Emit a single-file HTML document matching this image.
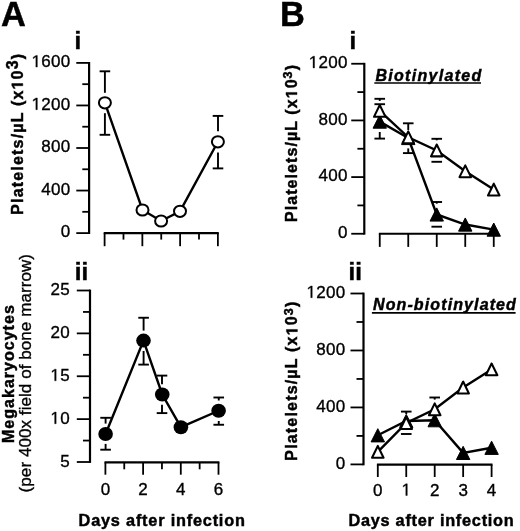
<!DOCTYPE html>
<html><head><meta charset="utf-8"><style>
html,body{margin:0;padding:0;background:#fff;}
svg{display:block;will-change:transform;}
text{font-family:"Liberation Sans", sans-serif;fill:#000;stroke:#000;stroke-width:0.35px;}
text[font-weight="bold"]{stroke-width:0.45px;}
.oner{fill:#000;stroke:#000;stroke-width:0.35px;vector-effect:non-scaling-stroke;}
.oneb{fill:#000;stroke:#000;stroke-width:0.45px;vector-effect:non-scaling-stroke;}
</style></head><body>
<svg width="520" height="531" viewBox="0 0 520 531" stroke="#000" stroke-linecap="butt">
<rect x="0" y="0" width="520" height="531" fill="#fff" stroke="none"/>
<line x1="89.10" y1="62.00" x2="89.10" y2="234.00" stroke-width="2.2"/>
<line x1="76.30" y1="233.10" x2="89.10" y2="233.10" stroke-width="1.8"/>
<line x1="82.30" y1="211.82" x2="89.10" y2="211.82" stroke-width="1.8"/>
<line x1="76.30" y1="190.55" x2="89.10" y2="190.55" stroke-width="1.8"/>
<line x1="82.30" y1="169.28" x2="89.10" y2="169.28" stroke-width="1.8"/>
<line x1="76.30" y1="148.00" x2="89.10" y2="148.00" stroke-width="1.8"/>
<line x1="82.30" y1="126.72" x2="89.10" y2="126.72" stroke-width="1.8"/>
<line x1="76.30" y1="105.45" x2="89.10" y2="105.45" stroke-width="1.8"/>
<line x1="82.30" y1="84.18" x2="89.10" y2="84.18" stroke-width="1.8"/>
<line x1="76.30" y1="62.90" x2="89.10" y2="62.90" stroke-width="1.8"/>
<text  x="70.60" y="237.30" font-size="17" text-anchor="end" font-weight="normal" font-style="normal" letter-spacing="0.3" >0</text>
<text  x="70.60" y="194.75" font-size="17" text-anchor="end" font-weight="normal" font-style="normal" letter-spacing="0.3" >400</text>
<text  x="70.60" y="152.20" font-size="17" text-anchor="end" font-weight="normal" font-style="normal" letter-spacing="0.3" >800</text>
<text id="o0" x="70.60" y="109.65" font-size="17" text-anchor="end" font-weight="normal" font-style="normal" letter-spacing="0.3" > 200</text>
<text id="o1" x="70.60" y="67.10" font-size="17" text-anchor="end" font-weight="normal" font-style="normal" letter-spacing="0.3" > 600</text>
<line x1="103.70" y1="233.10" x2="218.78" y2="233.10" stroke-width="2.2"/>
<line x1="104.60" y1="233.10" x2="104.60" y2="246.20" stroke-width="1.8"/>
<line x1="123.48" y1="233.10" x2="123.48" y2="239.60" stroke-width="1.8"/>
<line x1="142.36" y1="233.10" x2="142.36" y2="246.20" stroke-width="1.8"/>
<line x1="161.24" y1="233.10" x2="161.24" y2="239.60" stroke-width="1.8"/>
<line x1="180.12" y1="233.10" x2="180.12" y2="246.20" stroke-width="1.8"/>
<line x1="199.00" y1="233.10" x2="199.00" y2="239.60" stroke-width="1.8"/>
<line x1="217.88" y1="233.10" x2="217.88" y2="246.20" stroke-width="1.8"/>
<line x1="104.90" y1="92.80" x2="104.90" y2="71.30" stroke-width="1.9"/>
<line x1="99.60" y1="71.30" x2="110.20" y2="71.30" stroke-width="1.9"/>
<line x1="104.90" y1="113.20" x2="104.90" y2="134.80" stroke-width="1.9"/>
<line x1="99.60" y1="134.80" x2="110.20" y2="134.80" stroke-width="1.9"/>
<line x1="218.00" y1="131.30" x2="218.00" y2="115.90" stroke-width="1.9"/>
<line x1="212.70" y1="115.90" x2="223.30" y2="115.90" stroke-width="1.9"/>
<line x1="218.00" y1="152.40" x2="218.00" y2="168.40" stroke-width="1.9"/>
<line x1="212.70" y1="168.40" x2="223.30" y2="168.40" stroke-width="1.9"/>
<polyline fill="none" stroke-width="2.4" points="104.90,102.80 142.50,210.00 161.10,221.00 180.00,211.30 217.90,141.80"/>
<ellipse cx="104.90" cy="102.80" rx="6.0" ry="5.6" fill="#fff" stroke-width="2.0"/>
<ellipse cx="142.50" cy="210.00" rx="6.0" ry="5.6" fill="#fff" stroke-width="2.0"/>
<ellipse cx="161.10" cy="221.00" rx="6.0" ry="5.6" fill="#fff" stroke-width="2.0"/>
<ellipse cx="180.00" cy="211.30" rx="6.0" ry="5.6" fill="#fff" stroke-width="2.0"/>
<ellipse cx="217.90" cy="141.80" rx="6.0" ry="5.6" fill="#fff" stroke-width="2.0"/>
<line x1="90.00" y1="289.60" x2="90.00" y2="462.90" stroke-width="2.2"/>
<line x1="76.80" y1="462.00" x2="90.00" y2="462.00" stroke-width="1.8"/>
<line x1="83.00" y1="440.56" x2="90.00" y2="440.56" stroke-width="1.8"/>
<line x1="76.80" y1="419.12" x2="90.00" y2="419.12" stroke-width="1.8"/>
<line x1="83.00" y1="397.69" x2="90.00" y2="397.69" stroke-width="1.8"/>
<line x1="76.80" y1="376.25" x2="90.00" y2="376.25" stroke-width="1.8"/>
<line x1="83.00" y1="354.81" x2="90.00" y2="354.81" stroke-width="1.8"/>
<line x1="76.80" y1="333.38" x2="90.00" y2="333.38" stroke-width="1.8"/>
<line x1="83.00" y1="311.94" x2="90.00" y2="311.94" stroke-width="1.8"/>
<line x1="76.80" y1="290.50" x2="90.00" y2="290.50" stroke-width="1.8"/>
<text  x="69.90" y="466.60" font-size="17" text-anchor="end" font-weight="normal" font-style="normal" letter-spacing="0.3" >5</text>
<text id="o2" x="69.90" y="423.72" font-size="17" text-anchor="end" font-weight="normal" font-style="normal" letter-spacing="0.3" > 0</text>
<text id="o3" x="69.90" y="380.85" font-size="17" text-anchor="end" font-weight="normal" font-style="normal" letter-spacing="0.3" > 5</text>
<text  x="69.90" y="337.97" font-size="17" text-anchor="end" font-weight="normal" font-style="normal" letter-spacing="0.3" >20</text>
<text  x="69.90" y="295.10" font-size="17" text-anchor="end" font-weight="normal" font-style="normal" letter-spacing="0.3" >25</text>
<line x1="104.50" y1="462.30" x2="219.40" y2="462.30" stroke-width="2.2"/>
<line x1="105.40" y1="462.30" x2="105.40" y2="474.70" stroke-width="1.8"/>
<line x1="124.25" y1="462.30" x2="124.25" y2="469.30" stroke-width="1.8"/>
<line x1="143.10" y1="462.30" x2="143.10" y2="474.70" stroke-width="1.8"/>
<line x1="161.95" y1="462.30" x2="161.95" y2="469.30" stroke-width="1.8"/>
<line x1="180.80" y1="462.30" x2="180.80" y2="474.70" stroke-width="1.8"/>
<line x1="199.65" y1="462.30" x2="199.65" y2="469.30" stroke-width="1.8"/>
<line x1="218.50" y1="462.30" x2="218.50" y2="474.70" stroke-width="1.8"/>
<text  x="105.40" y="495.40" font-size="17" text-anchor="middle" font-weight="normal" font-style="normal" letter-spacing="0" >0</text>
<text  x="143.10" y="495.40" font-size="17" text-anchor="middle" font-weight="normal" font-style="normal" letter-spacing="0" >2</text>
<text  x="180.80" y="495.40" font-size="17" text-anchor="middle" font-weight="normal" font-style="normal" letter-spacing="0" >4</text>
<text  x="218.50" y="495.40" font-size="17" text-anchor="middle" font-weight="normal" font-style="normal" letter-spacing="0" >6</text>
<line x1="105.60" y1="423.60" x2="105.60" y2="417.80" stroke-width="1.9"/>
<line x1="100.30" y1="417.80" x2="110.90" y2="417.80" stroke-width="1.9"/>
<line x1="105.60" y1="443.90" x2="105.60" y2="449.70" stroke-width="1.9"/>
<line x1="100.30" y1="449.70" x2="110.90" y2="449.70" stroke-width="1.9"/>
<line x1="143.60" y1="330.60" x2="143.60" y2="317.75" stroke-width="1.9"/>
<line x1="138.30" y1="317.75" x2="148.90" y2="317.75" stroke-width="1.9"/>
<line x1="143.60" y1="351.00" x2="143.60" y2="364.60" stroke-width="1.9"/>
<line x1="138.30" y1="364.60" x2="148.90" y2="364.60" stroke-width="1.9"/>
<line x1="162.00" y1="384.30" x2="162.00" y2="375.60" stroke-width="1.9"/>
<line x1="156.70" y1="375.60" x2="167.30" y2="375.60" stroke-width="1.9"/>
<line x1="162.00" y1="404.70" x2="162.00" y2="413.10" stroke-width="1.9"/>
<line x1="156.70" y1="413.10" x2="167.30" y2="413.10" stroke-width="1.9"/>
<line x1="218.75" y1="400.50" x2="218.75" y2="397.50" stroke-width="1.9"/>
<line x1="213.45" y1="397.50" x2="224.05" y2="397.50" stroke-width="1.9"/>
<line x1="218.75" y1="421.00" x2="218.75" y2="424.75" stroke-width="1.9"/>
<line x1="213.45" y1="424.75" x2="224.05" y2="424.75" stroke-width="1.9"/>
<polyline fill="none" stroke-width="2.4" points="105.60,434.00 143.50,340.60 162.25,394.50 180.90,427.20 218.60,410.75"/>
<ellipse cx="105.60" cy="434.00" rx="7.3" ry="7.0" fill="#000" stroke="none"/>
<ellipse cx="143.50" cy="340.60" rx="7.3" ry="7.0" fill="#000" stroke="none"/>
<ellipse cx="162.25" cy="394.50" rx="7.3" ry="7.0" fill="#000" stroke="none"/>
<ellipse cx="180.90" cy="427.20" rx="7.3" ry="7.0" fill="#000" stroke="none"/>
<ellipse cx="218.60" cy="410.75" rx="7.3" ry="7.0" fill="#000" stroke="none"/>
<text  x="78.60" y="525.60" font-size="16.3" text-anchor="start" font-weight="bold" font-style="normal" letter-spacing="0.8" >Days after infection</text>
<line x1="364.30" y1="62.85" x2="364.30" y2="234.65" stroke-width="2.2"/>
<line x1="351.25" y1="233.75" x2="364.30" y2="233.75" stroke-width="1.8"/>
<line x1="357.40" y1="205.42" x2="364.30" y2="205.42" stroke-width="1.8"/>
<line x1="351.25" y1="177.08" x2="364.30" y2="177.08" stroke-width="1.8"/>
<line x1="357.40" y1="148.75" x2="364.30" y2="148.75" stroke-width="1.8"/>
<line x1="351.25" y1="120.42" x2="364.30" y2="120.42" stroke-width="1.8"/>
<line x1="357.40" y1="92.08" x2="364.30" y2="92.08" stroke-width="1.8"/>
<line x1="351.25" y1="63.75" x2="364.30" y2="63.75" stroke-width="1.8"/>
<text  x="347.80" y="237.95" font-size="17" text-anchor="end" font-weight="normal" font-style="normal" letter-spacing="0.3" >0</text>
<text  x="347.80" y="181.28" font-size="17" text-anchor="end" font-weight="normal" font-style="normal" letter-spacing="0.3" >400</text>
<text  x="347.80" y="124.62" font-size="17" text-anchor="end" font-weight="normal" font-style="normal" letter-spacing="0.3" >800</text>
<text id="o4" x="347.80" y="67.95" font-size="17" text-anchor="end" font-weight="normal" font-style="normal" letter-spacing="0.3" > 200</text>
<line x1="378.85" y1="233.75" x2="494.65" y2="233.75" stroke-width="2.2"/>
<line x1="379.75" y1="233.75" x2="379.75" y2="246.90" stroke-width="1.8"/>
<line x1="408.25" y1="233.75" x2="408.25" y2="246.90" stroke-width="1.8"/>
<line x1="436.75" y1="233.75" x2="436.75" y2="246.90" stroke-width="1.8"/>
<line x1="465.25" y1="233.75" x2="465.25" y2="246.90" stroke-width="1.8"/>
<line x1="493.75" y1="233.75" x2="493.75" y2="246.90" stroke-width="1.8"/>
<line x1="379.75" y1="100.90" x2="379.75" y2="98.80" stroke-width="1.9"/>
<line x1="374.45" y1="98.80" x2="385.05" y2="98.80" stroke-width="1.9"/>
<line x1="374.45" y1="104.20" x2="385.05" y2="104.20" stroke-width="1.9"/>
<line x1="379.75" y1="132.00" x2="379.75" y2="138.60" stroke-width="1.9"/>
<line x1="374.45" y1="138.60" x2="385.05" y2="138.60" stroke-width="1.9"/>
<line x1="408.25" y1="130.00" x2="408.25" y2="123.30" stroke-width="1.9"/>
<line x1="402.95" y1="123.30" x2="413.55" y2="123.30" stroke-width="1.9"/>
<line x1="408.25" y1="148.40" x2="408.25" y2="153.10" stroke-width="1.9"/>
<line x1="402.95" y1="153.10" x2="413.55" y2="153.10" stroke-width="1.9"/>
<line x1="436.75" y1="140.30" x2="436.75" y2="138.80" stroke-width="1.9"/>
<line x1="431.45" y1="138.80" x2="442.05" y2="138.80" stroke-width="1.9"/>
<line x1="431.45" y1="161.80" x2="442.05" y2="161.80" stroke-width="1.9"/>
<line x1="436.75" y1="203.70" x2="436.75" y2="202.00" stroke-width="1.9"/>
<line x1="431.45" y1="202.00" x2="442.05" y2="202.00" stroke-width="1.9"/>
<line x1="431.45" y1="226.70" x2="442.05" y2="226.70" stroke-width="1.9"/>
<polyline fill="none" stroke-width="2.4" points="379.75,121.60 408.25,138.00 436.75,214.50 465.25,224.55 493.75,229.60"/>
<polygon fill="#000" stroke-width="1.0" stroke-linejoin="round" points="379.75,115.00 373.05,128.20 386.45,128.20"/>
<polygon fill="#000" stroke-width="1.0" stroke-linejoin="round" points="408.25,131.40 401.55,144.60 414.95,144.60"/>
<polygon fill="#000" stroke-width="1.0" stroke-linejoin="round" points="436.75,207.90 430.05,221.10 443.45,221.10"/>
<polygon fill="#000" stroke-width="1.0" stroke-linejoin="round" points="465.25,217.95 458.55,231.15 471.95,231.15"/>
<polygon fill="#000" stroke-width="1.0" stroke-linejoin="round" points="493.75,223.00 487.05,236.20 500.45,236.20"/>
<polyline fill="none" stroke-width="2.4" points="379.75,110.90 408.25,137.30 436.75,150.45 465.25,171.25 493.75,189.60"/>
<polygon fill="#fff" stroke-width="2.05" stroke-linejoin="round" points="379.75,104.98 373.98,116.83 385.52,116.83"/>
<polygon fill="#fff" stroke-width="2.05" stroke-linejoin="round" points="408.25,131.38 402.48,143.22 414.02,143.22"/>
<polygon fill="#fff" stroke-width="2.05" stroke-linejoin="round" points="436.75,144.53 430.98,156.37 442.52,156.37"/>
<polygon fill="#fff" stroke-width="2.05" stroke-linejoin="round" points="465.25,165.33 459.48,177.17 471.02,177.17"/>
<polygon fill="#fff" stroke-width="2.05" stroke-linejoin="round" points="493.75,183.68 487.98,195.52 499.52,195.52"/>
<line x1="363.50" y1="292.60" x2="363.50" y2="465.30" stroke-width="2.2"/>
<line x1="350.50" y1="464.40" x2="363.50" y2="464.40" stroke-width="1.8"/>
<line x1="356.50" y1="435.92" x2="363.50" y2="435.92" stroke-width="1.8"/>
<line x1="350.50" y1="407.43" x2="363.50" y2="407.43" stroke-width="1.8"/>
<line x1="356.50" y1="378.95" x2="363.50" y2="378.95" stroke-width="1.8"/>
<line x1="350.50" y1="350.47" x2="363.50" y2="350.47" stroke-width="1.8"/>
<line x1="356.50" y1="321.98" x2="363.50" y2="321.98" stroke-width="1.8"/>
<line x1="350.50" y1="293.50" x2="363.50" y2="293.50" stroke-width="1.8"/>
<text  x="345.50" y="468.60" font-size="17" text-anchor="end" font-weight="normal" font-style="normal" letter-spacing="0.3" >0</text>
<text  x="345.50" y="411.63" font-size="17" text-anchor="end" font-weight="normal" font-style="normal" letter-spacing="0.3" >400</text>
<text  x="345.50" y="354.67" font-size="17" text-anchor="end" font-weight="normal" font-style="normal" letter-spacing="0.3" >800</text>
<text id="o5" x="345.50" y="297.70" font-size="17" text-anchor="end" font-weight="normal" font-style="normal" letter-spacing="0.3" > 200</text>
<line x1="376.90" y1="464.60" x2="492.50" y2="464.60" stroke-width="2.2"/>
<line x1="377.80" y1="464.60" x2="377.80" y2="477.00" stroke-width="1.8"/>
<line x1="406.25" y1="464.60" x2="406.25" y2="477.00" stroke-width="1.8"/>
<line x1="434.70" y1="464.60" x2="434.70" y2="477.00" stroke-width="1.8"/>
<line x1="463.15" y1="464.60" x2="463.15" y2="477.00" stroke-width="1.8"/>
<line x1="491.60" y1="464.60" x2="491.60" y2="477.00" stroke-width="1.8"/>
<text  x="377.80" y="495.50" font-size="17" text-anchor="middle" font-weight="normal" font-style="normal" letter-spacing="0" >0</text>
<text id="o6" x="406.25" y="495.50" font-size="17" text-anchor="middle" font-weight="normal" font-style="normal" letter-spacing="0" > </text>
<text  x="434.70" y="495.50" font-size="17" text-anchor="middle" font-weight="normal" font-style="normal" letter-spacing="0" >2</text>
<text  x="463.15" y="495.50" font-size="17" text-anchor="middle" font-weight="normal" font-style="normal" letter-spacing="0" >3</text>
<text  x="491.60" y="495.50" font-size="17" text-anchor="middle" font-weight="normal" font-style="normal" letter-spacing="0" >4</text>
<line x1="406.25" y1="414.00" x2="406.25" y2="411.60" stroke-width="1.9"/>
<line x1="400.95" y1="411.60" x2="411.55" y2="411.60" stroke-width="1.9"/>
<line x1="400.95" y1="434.00" x2="411.55" y2="434.00" stroke-width="1.9"/>
<line x1="434.70" y1="399.60" x2="434.70" y2="397.50" stroke-width="1.9"/>
<line x1="429.40" y1="397.50" x2="440.00" y2="397.50" stroke-width="1.9"/>
<polyline fill="none" stroke-width="2.4" points="377.80,435.30 406.25,421.00 434.70,420.20 463.15,452.90 491.60,447.80"/>
<polygon fill="#000" stroke-width="1.0" stroke-linejoin="round" points="377.80,428.70 371.10,441.90 384.50,441.90"/>
<polygon fill="#000" stroke-width="1.0" stroke-linejoin="round" points="406.25,414.40 399.55,427.60 412.95,427.60"/>
<polygon fill="#000" stroke-width="1.0" stroke-linejoin="round" points="434.70,413.60 428.00,426.80 441.40,426.80"/>
<polygon fill="#000" stroke-width="1.0" stroke-linejoin="round" points="463.15,446.30 456.45,459.50 469.85,459.50"/>
<polygon fill="#000" stroke-width="1.0" stroke-linejoin="round" points="491.60,441.20 484.90,454.40 498.30,454.40"/>
<polyline fill="none" stroke-width="2.4" points="377.80,451.85 406.25,423.00 434.70,409.30 463.15,387.50 491.60,369.40"/>
<polygon fill="#fff" stroke-width="2.05" stroke-linejoin="round" points="377.80,445.93 372.03,457.78 383.57,457.78"/>
<polygon fill="#fff" stroke-width="2.05" stroke-linejoin="round" points="406.25,417.07 400.48,428.93 412.02,428.93"/>
<polygon fill="#fff" stroke-width="2.05" stroke-linejoin="round" points="434.70,403.38 428.93,415.23 440.47,415.23"/>
<polygon fill="#fff" stroke-width="2.05" stroke-linejoin="round" points="463.15,381.57 457.38,393.43 468.92,393.43"/>
<polygon fill="#fff" stroke-width="2.05" stroke-linejoin="round" points="491.60,363.47 485.83,375.32 497.38,375.32"/>
<text  x="348.40" y="525.60" font-size="16.3" text-anchor="start" font-weight="bold" font-style="normal" letter-spacing="0.75" >Days after infection</text>
<text  x="1.00" y="25.50" font-size="34.4" text-anchor="start" font-weight="bold" font-style="normal" letter-spacing="0" >A</text>
<text  x="279.90" y="25.50" font-size="34.4" text-anchor="start" font-weight="bold" font-style="normal" letter-spacing="0" >B</text>
<text  x="74.40" y="49.10" font-size="24" text-anchor="start" font-weight="bold" font-style="normal" letter-spacing="0" >i</text>
<text  x="349.50" y="49.00" font-size="24" text-anchor="start" font-weight="bold" font-style="normal" letter-spacing="0" >i</text>
<text  x="74.80" y="279.60" font-size="24" text-anchor="start" font-weight="bold" font-style="normal" letter-spacing="0" >ii</text>
<text  x="348.60" y="279.60" font-size="24" text-anchor="start" font-weight="bold" font-style="normal" letter-spacing="0" >ii</text>
<text  x="375.40" y="80.50" font-size="16" text-anchor="start" font-weight="bold" font-style="italic" letter-spacing="1.3" >Biotinylated</text>
<line x1="374.30" y1="83.00" x2="481.00" y2="83.00" stroke-width="1.6"/>
<text  x="373.00" y="310.30" font-size="16" text-anchor="start" font-weight="bold" font-style="italic" letter-spacing="1.11" >Non-biotinylated</text>
<line x1="371.90" y1="312.90" x2="515.60" y2="312.90" stroke-width="1.6"/>
<text id="o7" transform="translate(22.80,214.80) rotate(-90)" x="0" y="0" font-size="16" font-weight="bold" letter-spacing="1.18">Platelets/µL (x 0<tspan dy='-4.9' font-size='16'>3</tspan><tspan dy='4.9'>)</tspan></text>
<text id="o8" transform="translate(297.00,222.00) rotate(-90)" x="0" y="0" font-size="16" font-weight="bold" letter-spacing="1.07">Platelets/µL (x 0<tspan dy='-4.6' font-size='12.5'>3</tspan><tspan dy='4.6'>)</tspan></text>
<text id="o9" transform="translate(297.40,460.70) rotate(-90)" x="0" y="0" font-size="16" font-weight="bold" letter-spacing="1.18">Platelets/µL (x 0<tspan dy='-4.6' font-size='12.5'>3</tspan><tspan dy='4.6'>)</tspan></text>
<text  transform="translate(14.20,443.00) rotate(-90)" x="0" y="0" font-size="16" font-weight="bold" letter-spacing="1.02">Megakaryocytes</text>
<text  transform="translate(30.60,492.40) rotate(-90)" x="0" y="0" font-size="17" font-weight="normal" letter-spacing="0.07">(per 400x field of bone marrow)</text>
<path class="oner" transform=" translate(31.569,109.650) scale(0.008301,-0.008301)" d="M515 0L515 1237L197 1010L197 1180L530 1409L696 1409L696 0Z"/>
<path class="oner" transform=" translate(31.569,67.100) scale(0.008301,-0.008301)" d="M515 0L515 1237L197 1010L197 1180L530 1409L696 1409L696 0Z"/>
<path class="oner" transform=" translate(50.384,423.720) scale(0.008301,-0.008301)" d="M515 0L515 1237L197 1010L197 1180L530 1409L696 1409L696 0Z"/>
<path class="oner" transform=" translate(50.384,380.850) scale(0.008301,-0.008301)" d="M515 0L515 1237L197 1010L197 1180L530 1409L696 1409L696 0Z"/>
<path class="oner" transform=" translate(308.769,67.950) scale(0.008301,-0.008301)" d="M515 0L515 1237L197 1010L197 1180L530 1409L696 1409L696 0Z"/>
<path class="oner" transform=" translate(306.469,297.700) scale(0.008301,-0.008301)" d="M515 0L515 1237L197 1010L197 1180L530 1409L696 1409L696 0Z"/>
<path class="oner" transform=" translate(401.516,495.500) scale(0.008301,-0.008301)" d="M515 0L515 1237L197 1010L197 1180L530 1409L696 1409L696 0Z"/>
<path class="oneb" transform="translate(22.80,214.80) rotate(-90) translate(125.328,0.000) scale(0.007812,-0.007812)" d="M478 0L478 1170L140 959L140 1180L493 1409L759 1409L759 0Z"/>
<path class="oneb" transform="translate(297.00,222.00) rotate(-90) translate(123.672,0.000) scale(0.007812,-0.007812)" d="M478 0L478 1170L140 959L140 1180L493 1409L759 1409L759 0Z"/>
<path class="oneb" transform="translate(297.40,460.70) rotate(-90) translate(125.328,0.000) scale(0.007812,-0.007812)" d="M478 0L478 1170L140 959L140 1180L493 1409L759 1409L759 0Z"/>
</svg>
</body></html>
